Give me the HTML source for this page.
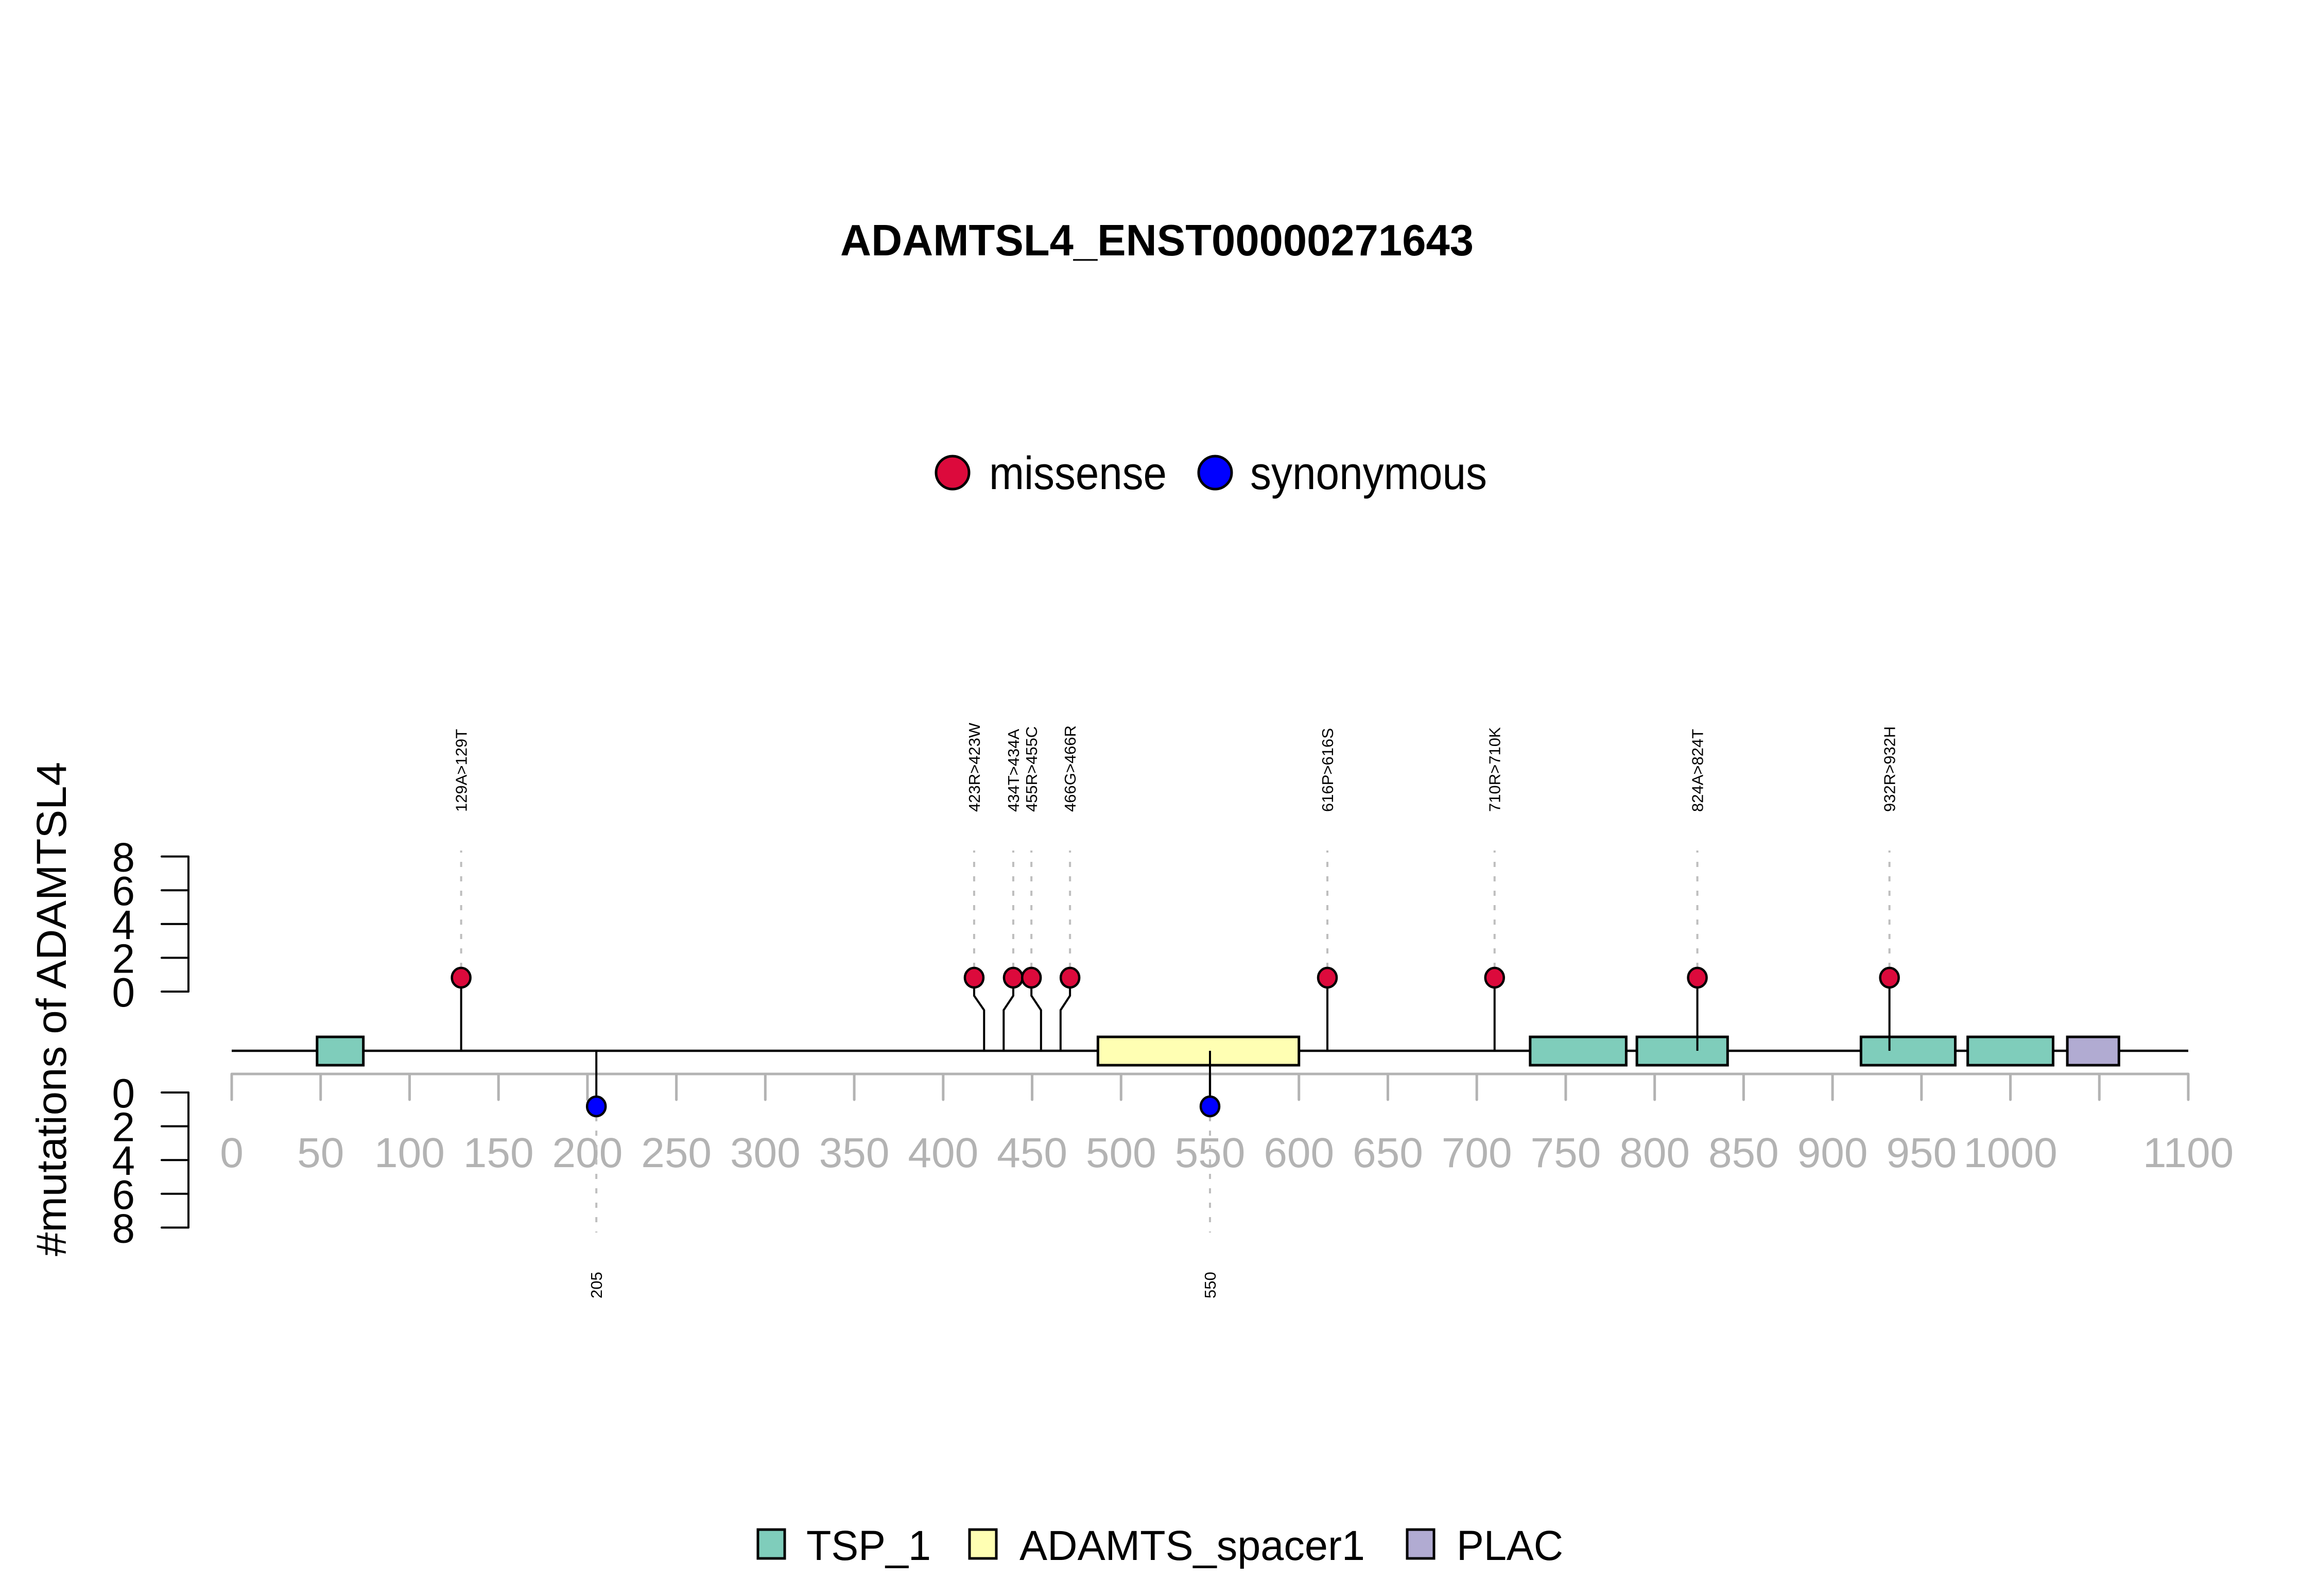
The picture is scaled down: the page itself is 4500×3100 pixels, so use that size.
<!DOCTYPE html>
<html><head><meta charset="utf-8"><style>html,body{margin:0;padding:0;background:#fff}svg{display:block}</style></head>
<body>
<svg id="chart" xmlns="http://www.w3.org/2000/svg" width="4500" height="3100" viewBox="0 0 4500 3100" font-family="Liberation Sans, sans-serif">
<rect width="4500" height="3100" fill="#fff"/>
<text x="2247" y="496" text-anchor="middle" font-weight="bold" font-size="85" textLength="1230" lengthAdjust="spacingAndGlyphs">ADAMTSL4_ENST00000271643</text>
<g>
<circle cx="1850" cy="918" r="32" fill="#DC0A3C" stroke="#000" stroke-width="5"/>
<text x="1921" y="950" font-size="90" textLength="345" lengthAdjust="spacingAndGlyphs">missense</text>
<circle cx="2360" cy="918" r="32" fill="#0000FF" stroke="#000" stroke-width="5"/>
<text x="2428" y="950" font-size="90" textLength="460" lengthAdjust="spacingAndGlyphs">synonymous</text>
</g>
<text transform="translate(128,1960) rotate(-90)" text-anchor="middle" font-size="82" textLength="960" lengthAdjust="spacingAndGlyphs">#mutations of ADAMTSL4</text>
<g id="plot"></g>
<g>
<rect x="1472" y="2971" width="52" height="56" fill="#7FCDBB" stroke="#000" stroke-width="5"/>
<text x="1566" y="3030" font-size="82" textLength="242" lengthAdjust="spacingAndGlyphs">TSP_1</text>
<rect x="1883" y="2971" width="52" height="56" fill="#FFFFB3" stroke="#000" stroke-width="5"/>
<text x="1980" y="3030" font-size="82" textLength="671" lengthAdjust="spacingAndGlyphs">ADAMTS_spacer1</text>
<rect x="2733" y="2971" width="52" height="56" fill="#B1ABD2" stroke="#000" stroke-width="5"/>
<text x="2829" y="3030" font-size="82" textLength="207" lengthAdjust="spacingAndGlyphs">PLAC</text>
</g>
</svg>
<script>
const xTicks = [0,50,100,150,200,250,300,350,400,450,500,550,600,650,700,750,800,850,900,950,1000,1050,1100];
const xTickLabels = ["0","50","100","150","200","250","300","350","400","450","500","550","600","650","700","750","800","850","900","950","1000","","1100"];
const yTicks = [0,2,4,6,8];
const proteinLength = 1100;
const domainStart = [48,487,730,790,916,976,1032];
const domainEnd = [74,600,784,841,969,1024,1061];
const domainType = ["TSP_1","ADAMTS_spacer1","TSP_1","TSP_1","TSP_1","TSP_1","PLAC"];
const upPos = [129,423,434,455,466,616,710,824,932];
const upHeadPos = [129,417.4,439.4,449.6,471.3,616,710,824,932];
const upCount = [1,1,1,1,1,1,1,1,1];
const upLabels = ["129A>129T","423R>423W","434T>434A","455R>455C","466G>466R","616P>616S","710R>710K","824A>824T","932R>932H"];
const downPos = [205,550];
const downCount = [1,1];
const downLabels = ["205","550"];

const NS="http://www.w3.org/2000/svg";
const plot=document.getElementById('plot');
const X=u=>450+u*(3800/1100);
const BB=2041, AX=2086;
const YU=v=>1926-v*32.8;   // upper count axis
const YD=v=>2122+v*32.8;   // lower count axis
const HEAD_OFF=27; // head distance above zero line (count 1)
const domColor={"TSP_1":"#7FCDBB","ADAMTS_spacer1":"#FFFFB3","PLAC":"#B1ABD2"};
function mk(tag,attrs,parent){const e=document.createElementNS(NS,tag);for(const k in attrs)e.setAttribute(k,attrs[k]);(parent||plot).appendChild(e);return e;}

// x axis
let el=mk('line',{x1:X(0),x2:X(proteinLength),y1:AX,y2:AX,stroke:'#B3B3B3','stroke-width':5});


xTicks.forEach((t,i)=>{
  let tk=mk('line',{x1:X(t),x2:X(t),y1:AX,y2:2136,stroke:'#B3B3B3','stroke-width':5,'stroke-linecap':'round'});
  
  
  if(xTickLabels[i]){
    let tl=mk('text',{x:X(t),y:2267,'text-anchor':'middle','font-size':82,fill:'#B3B3B3'});
    tl.textContent=xTickLabels[i];
    
    
  }
});
// y axes
function yAxis(f,name){
  let a=mk('line',{x1:366,x2:366,y1:f(yTicks[0]),y2:f(yTicks[yTicks.length-1]),stroke:'#000','stroke-width':4});
  
  
  yTicks.forEach(t=>{
    let tk=mk('line',{x1:314,x2:366,y1:f(t),y2:f(t),stroke:'#000','stroke-width':4,'stroke-linecap':'round'});
    
    
    let tl=mk('text',{x:262,y:f(t)+29,'text-anchor':'end','font-size':80});
    tl.textContent=String(t);
    
    
  });
}
yAxis(YU,'upper-y-axis');
yAxis(YD,'lower-y-axis');

// backbone
el=mk('line',{x1:X(0),x2:X(proteinLength),y1:BB,y2:BB,stroke:'#000','stroke-width':4.5});



// upward stems (drawn before domains so boxes overlay stems? stems appear over boxes -> draw after)
domainStart.forEach((s,i)=>{
  let r=mk('rect',{x:X(s),y:2014,width:X(domainEnd[i])-X(s),height:55,fill:domColor[domainType[i]],stroke:'#000','stroke-width':5});
  
  
});

upPos.forEach((p,i)=>{
  const hx=X(upHeadPos[i]), sx=X(p);
  const hy=YU(0)-HEAD_OFF*upCount[i];
  let d = `M${sx},${BB} L${sx},1962 L${hx},1934 L${hx},${hy}`;
  let st=mk('path',{d:d,fill:'none',stroke:'#000','stroke-width':4});
  
  
  let ds=mk('line',{x1:hx,x2:hx,y1:hy-19,y2:1652,stroke:'#BEBEBE','stroke-width':4,'stroke-dasharray':'10 18'});
  
  
  let c=mk('ellipse',{cx:hx,cy:hy,rx:18,ry:19,fill:'#DC0A3C',stroke:'#000','stroke-width':4.5});
  
  
  let t=mk('text',{transform:`translate(${hx+11},1577) rotate(-90)`,'font-size':31});
  t.textContent=upLabels[i];
  
  
});

downPos.forEach((p,i)=>{
  const x=X(p);
  const cy=YD(0)+HEAD_OFF*downCount[i];
  let st=mk('line',{x1:x,x2:x,y1:BB,y2:cy,stroke:'#000','stroke-width':4});
  
  
  let ds=mk('line',{x1:x,x2:x,y1:cy+19,y2:2394,stroke:'#BEBEBE','stroke-width':4,'stroke-dasharray':'10 18'});
  
  
  let c=mk('ellipse',{cx:x,cy:cy,rx:18,ry:19,fill:'#0000FF',stroke:'#000','stroke-width':4.5});
  
  
  let t=mk('text',{transform:`translate(${x+11},2522) rotate(-90)`,'font-size':31});
  t.textContent=downLabels[i];
  
  
});
</script>
</body></html>
